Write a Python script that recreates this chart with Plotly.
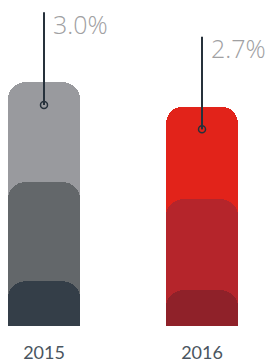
import plotly.graph_objects as go

years = ["2015", "2016"]
total = [3.0, 2.7]
middle = [1.77, 1.56]
bottom = [0.55, 0.44]
labels = ["3.0%", "2.7%"]

top_colors = ["#999a9e", "#e2231a"]
mid_colors = ["#63676a", "#b5252b"]
bot_colors = ["#343e48", "#8f2129"]

xpos = [0, 1]
bar_w = 0.456
xr = [-0.2785, 1.424]
yr = [0, 4.012]
fig = go.Figure()
layers = [(total, top_colors), (middle, mid_colors), (bottom, bot_colors)]
for i, (vals, cols) in enumerate(layers):
    sfx = "" if i == 0 else str(i + 1)
    fig.add_trace(go.Bar(x=xpos, y=vals,
                         marker=dict(color=cols, line=dict(width=0), cornerradius=17),
                         width=bar_w, xaxis="x" + sfx, yaxis="y" + sfx,
                         hoverinfo="skip", showlegend=False))

line_below = 0.28
line_above = 0.86
for xv, v in zip(xpos, total):
    fig.add_shape(type="line", x0=xv, x1=xv, y0=v - line_below, y1=v + line_above,
                  xref="x", yref="y",
                  line=dict(color="#26313b", width=2), layer="above")
fig.add_trace(go.Scatter(x=xpos, y=[v - line_below for v in total], mode="markers",
                         xaxis="x3", yaxis="y3",
                         marker=dict(symbol="circle", size=7, color="rgba(0,0,0,0)",
                                     line=dict(color="#26313b", width=1.5)),
                         hoverinfo="skip", showlegend=False))
for xv, v, t in zip(xpos, total, labels):
    fig.add_annotation(x=xv, y=v + 0.72, text=t, showarrow=False, xanchor="left",
                       yanchor="middle", xshift=7, xref="x", yref="y",
                       font=dict(family="Open Sans", size=25, color="#a0a0a2", weight=300))

hidden_x = dict(range=xr, visible=False, showgrid=False, zeroline=False, overlaying="x")
hidden_y = dict(range=yr, visible=False, showgrid=False, zeroline=False, overlaying="y")
fig.update_layout(
    width=269, height=363, margin=dict(l=0, r=0, t=0, b=34),
    paper_bgcolor="white", plot_bgcolor="white",
    bargap=0,
    xaxis=dict(range=xr, tickvals=xpos, ticktext=years, showgrid=False,
               zeroline=False, showline=False, ticks="outside", ticklen=10,
               tickcolor="rgba(0,0,0,0)",
               tickfont=dict(family="Lato", size=18, color="#4a5560")),
    yaxis=dict(range=yr, visible=False, showgrid=False, zeroline=False),
    xaxis2=hidden_x, yaxis2=hidden_y,
    xaxis3=hidden_x, yaxis3=hidden_y,
)
fig.write_html("out.html", config={"displayModeBar": False, "staticPlot": True},
               post_script="document.body.style.margin='0';")
